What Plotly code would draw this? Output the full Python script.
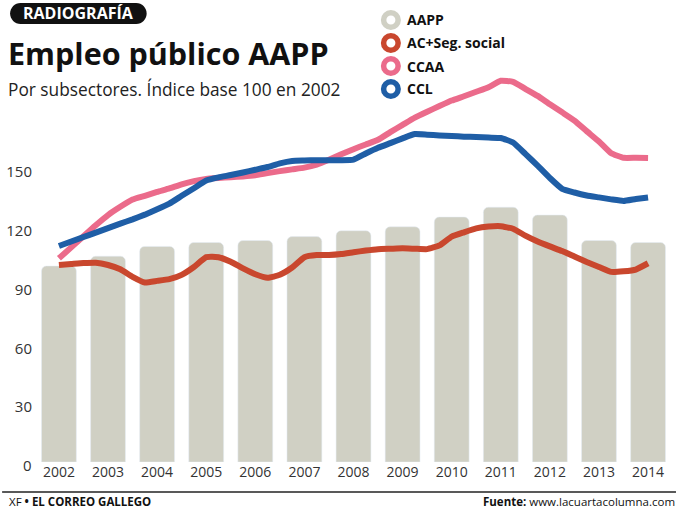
import plotly.graph_objects as go

# ---------------- data ----------------
years = list(range(2002, 2015))
year_labels = [str(y) for y in years]
aapp = [100, 105, 110, 112, 113, 115, 118, 120, 125, 130, 126, 113, 112]

quarters = [2002 + 0.25 * i for i in range(49)]
ac_seg_social = [100.5, 101.0, 101.5, 101.7, 100.5, 98.3, 94.5, 91.6, 92.4, 93.3,
                 95.5, 99.5, 104.5, 104.5, 102.2, 98.8, 95.8, 94.0, 95.5, 99.2,
                 104.5, 105.6, 105.6, 106.1, 107.0, 107.9, 108.6, 108.8, 109.0, 108.8,
                 108.6, 110.5, 115.0, 117.2, 119.2, 120.1, 120.3, 119.0, 115.5, 112.5,
                 110.0, 107.6, 104.8, 102.0, 99.5, 97.0, 97.3, 98.2, 101.4]
ccaa = [103.9, 109.5, 115.2, 120.8, 126.0, 130.2, 133.9, 135.8, 137.8, 139.6,
        141.7, 143.3, 144.4, 144.9, 145.3, 145.7, 146.3, 147.4, 148.4, 149.3,
        150.2, 151.7, 154.2, 157.0, 159.6, 162.0, 164.4, 168.3, 172.0, 175.7,
        178.7, 181.6, 184.4, 186.6, 188.9, 191.2, 194.5, 194.0, 190.4, 186.8,
        182.5, 178.4, 174.2, 168.8, 163.5, 157.5, 155.2, 155.2, 155.1]
ccl = [110.2, 112.5, 114.8, 117.0, 119.3, 121.6, 123.8, 126.2, 128.9, 131.8,
       135.8, 139.7, 143.6, 145.2, 146.4, 147.7, 149.1, 150.5, 152.4, 153.6,
       153.8, 154.0, 154.0, 154.0, 154.3, 157.4, 160.3, 162.7, 165.1, 167.3,
       167.0, 166.6, 166.3, 166.0, 165.8, 165.5, 165.3, 163.0, 157.2, 151.2,
       144.9, 139.4, 137.5, 136.0, 135.0, 134.0, 133.2, 134.2, 135.0]
y_ticks = [30, 60, 90, 120, 150]

series_names = ["AAPP", "AC+Seg. social", "CCAA", "CCL"]
colors = {"AAPP": "#D0D0C4", "AC+Seg. social": "#C9472E",
          "CCAA": "#EB6B8B", "CCL": "#1F5EA6"}

# ---------------- layout geometry ----------------
W, H = 676, 509
L, R, T, B = 35, 6, 70, 47
PW, PH = W - L - R, H - T - B


def px(x):
    return (x - L) / PW


def py(y):
    return (H - B - y) / PH


fig = go.Figure()
fig.add_trace(go.Bar(x=years, y=aapp, marker=dict(color=colors["AAPP"], cornerradius=5),
                     width=0.71, name="AAPP", hoverinfo="skip"))
for nm, vals in [("AC+Seg. social", ac_seg_social), ("CCAA", ccaa), ("CCL", ccl)]:
    fig.add_trace(go.Scatter(x=quarters, y=vals, mode="lines", name=nm,
                             line=dict(color=colors[nm], width=6, shape="spline", smoothing=0.4)))

shapes = []
annotations = []

# pill "RADIOGRAFÍA"
x0, x1, y0, y1 = 8, 145, 3, 24
r = (y1 - y0) / 2
k = 0.5523 * r
pts = (f"M {px(x0 + r)},{py(y0)} L {px(x1 - r)},{py(y0)} "
       f"C {px(x1 - r + k)},{py(y0)} {px(x1)},{py(y0 + r - k)} {px(x1)},{py(y0 + r)} "
       f"C {px(x1)},{py(y0 + r + k)} {px(x1 - r + k)},{py(y1)} {px(x1 - r)},{py(y1)} "
       f"L {px(x0 + r)},{py(y1)} "
       f"C {px(x0 + r - k)},{py(y1)} {px(x0)},{py(y0 + r + k)} {px(x0)},{py(y0 + r)} "
       f"C {px(x0)},{py(y0 + r - k)} {px(x0 + r - k)},{py(y0)} {px(x0 + r)},{py(y0)} Z")
shapes.append(dict(type="path", xref="paper", yref="paper", path=pts,
                   fillcolor="#111111", line=dict(width=0)))
annotations.append(dict(text="<b>RADIOGRAFÍA</b>", x=px(77), y=py(13.5), xref="paper", yref="paper",
                        showarrow=False, xanchor="center", yanchor="middle",
                        font=dict(family="Open Sans", size=16, color="white")))
annotations.append(dict(text="<b>Empleo público AAPP</b>", x=px(4), y=py(53), xref="paper", yref="paper",
                        showarrow=False, xanchor="left", yanchor="middle",
                        font=dict(family="Open Sans", size=30.5, color="#111111")))
annotations.append(dict(text="Por subsectores. Índice base 100 en 2002", x=px(4), y=py(90),
                        xref="paper", yref="paper", showarrow=False, xanchor="left", yanchor="middle",
                        font=dict(family="Open Sans", size=17.3, color="#222222")))

# custom legend
leg_y = [20, 43, 66, 89]
for nm, yy in zip(series_names, leg_y):
    cx, rr = 390, 7.3
    shapes.append(dict(type="circle", xref="paper", yref="paper",
                       x0=px(cx - rr), x1=px(cx + rr), y0=py(yy + rr), y1=py(yy - rr),
                       line=dict(color=colors[nm], width=5.5), fillcolor="white"))
    annotations.append(dict(text=f"<b>{nm}</b>", x=px(404), y=py(yy), xref="paper", yref="paper",
                            showarrow=False, xanchor="left", yanchor="middle",
                            font=dict(family="Open Sans", size=14, color="#111111")))

# "0" label
annotations.append(dict(text="0", x=px(25), y=py(465), xref="paper", yref="paper",
                        showarrow=False, xanchor="center", yanchor="middle",
                        font=dict(family="Open Sans", size=15, color="#333333")))

# footer
shapes.append(dict(type="line", xref="paper", yref="paper", x0=px(0), x1=px(676),
                   y0=py(492), y1=py(492), line=dict(color="#222222", width=1.5)))
annotations.append(dict(text="XF <b>• EL CORREO GALLEGO</b>", x=px(6), y=py(501), xref="paper",
                        yref="paper", showarrow=False, xanchor="left", yanchor="middle", borderpad=0,
                        font=dict(family="Open Sans", size=11.5, color="#111111")))
annotations.append(dict(text="<b>Fuente:</b> www.lacuartacolumna.com", x=px(676), y=py(501),
                        xref="paper", yref="paper", showarrow=False, xanchor="right", yanchor="middle",
                        borderpad=0, font=dict(family="Open Sans", size=11.5, color="#111111")))

fig.update_layout(
    width=W, height=H,
    margin=dict(l=L, r=R, t=T, b=B, pad=0),
    paper_bgcolor="white", plot_bgcolor="white",
    showlegend=False,
    shapes=shapes, annotations=annotations,
    xaxis=dict(range=[2002 - 22 / 49.25, 2002 + 613 / 49.25], tickvals=years, ticktext=year_labels,
               showgrid=False, zeroline=False, showline=False, ticks="",
               tickfont=dict(family="Open Sans", size=14, color="#333333")),
    yaxis=dict(range=[0, PH / 1.96], tickvals=y_ticks, ticktext=[str(v) for v in y_ticks],
               showgrid=False, zeroline=False, showline=False, ticks="", ticklabelstandoff=4,
               ticklabelshift=4,
               tickfont=dict(family="Open Sans", size=15, color="#333333")),
)

fig.write_html("out.html")
